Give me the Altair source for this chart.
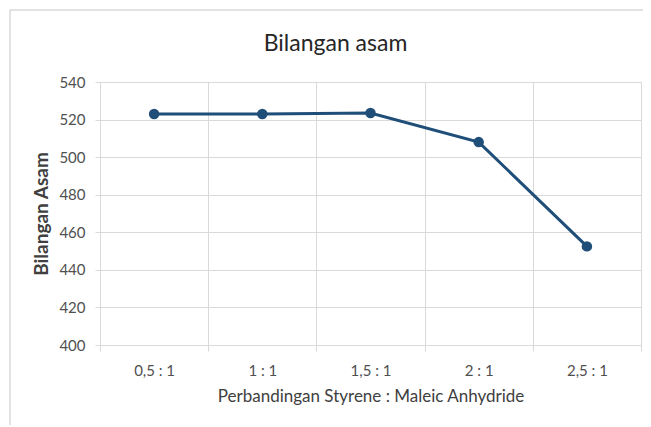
import altair as alt
import pandas as pd

ratios = ["0,5 : 1", "1 : 1", "1,5 : 1", "2 : 1", "2,5 : 1"]
acid_values = [523.0, 523.0, 523.5, 508.0, 452.5]
y_ticks = [400, 420, 440, 460, 480, 500, 520, 540]
chart_title = ["Bilangan asam"]

df = pd.DataFrame({"ratio": ratios, "value": acid_values})
title_df = pd.DataFrame({"t": chart_title})

FONT = "Lato"
LINE_COLOR = "#1f4e79"
GRID = "#d9d9d9"

x_enc = alt.X(
    "ratio:N",
    sort=ratios,
    bandPosition=0.5,
    scale=alt.Scale(type="band", paddingInner=0, paddingOuter=0),
    axis=alt.Axis(
        title="Perbandingan Styrene : Maleic Anhydride",
        labelAngle=0,
        tickBand="extent",
        grid=True,
        gridColor=GRID,
        domain=False,
        ticks=True,
        tickColor=GRID,
        tickSize=6,
        labelPadding=12,
        labelFont=FONT,
        labelFontSize=15,
        labelColor="#505050",
        titleFont=FONT,
        titleFontSize=17,
        titleFontWeight="normal",
        titleColor="#404040",
        titlePadding=10,
    ),
)

y_enc = alt.Y(
    "value:Q",
    scale=alt.Scale(domain=[400, 540], nice=False, zero=False),
    axis=alt.Axis(
        title="Bilangan Asam",
        values=y_ticks,
        grid=True,
        gridColor=GRID,
        domain=False,
        ticks=True,
        tickColor=GRID,
        tickSize=5,
        labelPadding=10,
        labelFont=FONT,
        labelFontSize=15,
        labelColor="#505050",
        titleFont=FONT,
        titleFontSize=19,
        titleFontWeight="bold",
        titleColor="#404040",
        titlePadding=7,
    ),
)

line = alt.Chart(df).mark_line(color=LINE_COLOR, strokeWidth=3).encode(x=x_enc, y=y_enc)
pts = alt.Chart(df).mark_point(filled=True, color=LINE_COLOR, size=110, opacity=1).encode(x=x_enc, y=y_enc)

frame = alt.Chart(title_df).mark_rect(fill=None, stroke="#d9d9d9", strokeWidth=1.5, clip=False).encode(
    x=alt.value(-90), x2=alt.value(561), y=alt.value(-72), y2=alt.value(355)
)

title = alt.Chart(title_df).mark_text(
    font=FONT, fontSize=23, color="#262626", align="center", baseline="alphabetic"
).encode(text="t:N", x=alt.value(235.5), y=alt.value(-31))

chart = (
    alt.layer(frame, line, pts, title)
    .properties(
        width=541,
        height=263,
        autosize=alt.AutoSizeParams(type="none"),
        padding={"left": 92, "top": 74, "right": 2, "bottom": 80},
    )
    .configure_view(stroke=None)
    .configure(background="white")
)

chart.save("out.html", embed_options={"renderer": "svg", "actions": False})
